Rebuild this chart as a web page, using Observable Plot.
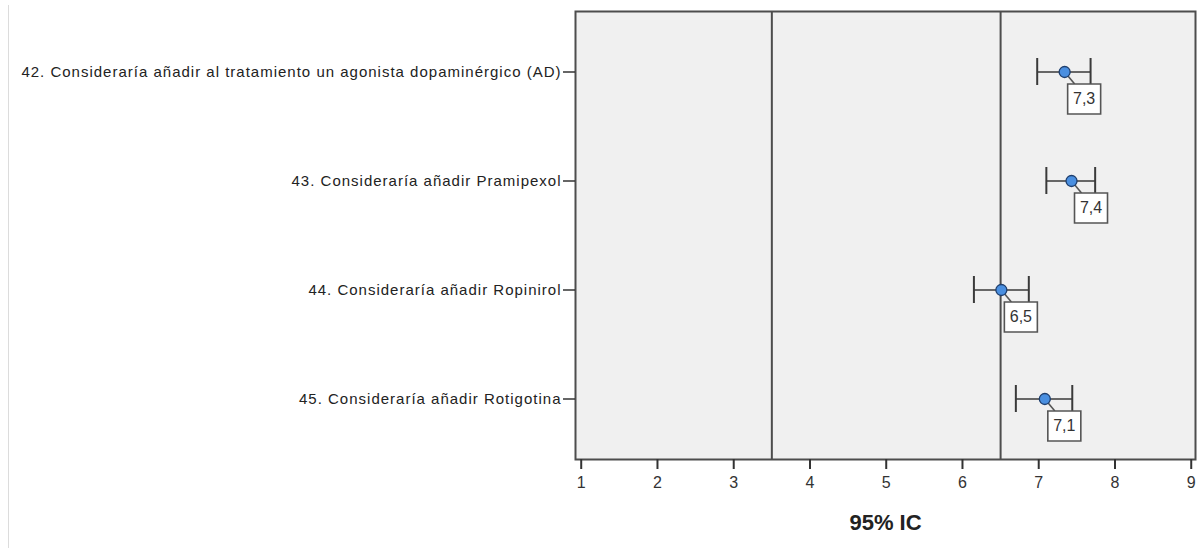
<!DOCTYPE html>
<html>
<head>
<meta charset="utf-8">
<script src="https://cdn.jsdelivr.net/npm/d3@7"></script>
<script src="https://cdn.jsdelivr.net/npm/@observablehq/plot@0.6"></script>
<style>
  body { margin: 0; background: #fff; font-family: "Liberation Sans", Arial, sans-serif; }
  #wrap { position: relative; width: 1200px; height: 548px; }
  #edge { position: absolute; left: 8px; top: 5px; bottom: 0; width: 1px; background: #dcdcdc; }
  #wrap svg { position: absolute; left: 0; top: 0; }
  /* wider tracking for the item labels */
  #wrap g[aria-label="y-axis tick label"] text { letter-spacing: 1px; }
</style>
</head>
<body>
<div id="wrap"><div id="edge"></div></div>
<script>
// Survey items (questions 42–45)
const items = [
  "42. Consideraría añadir al tratamiento un agonista dopaminérgico (AD)",
  "43. Consideraría añadir Pramipexol",
  "44. Consideraría añadir Ropinirol",
  "45. Consideraría añadir Rotigotina"
];
// Mean score and 95% confidence interval bounds per item
const means = [7.34, 7.43, 6.51, 7.08];
const lower = [6.98, 7.10, 6.15, 6.70];
const upper = [7.68, 7.74, 6.87, 7.44];
// Axis ticks and vertical reference lines
const xTicks = [1, 2, 3, 4, 5, 6, 7, 8, 9];
const refLines = [3.5, 6.5];

const rows = items.map((item, i) => ({
  item,
  mean: means[i],
  lo: lower[i],
  hi: upper[i],
  label: means[i].toFixed(1).replace(".", ",")
}));

// Leader line from the mean marker to its value box, and the box itself
const leader = { draw(ctx) { ctx.moveTo(0, 0); ctx.lineTo(10, 12); } };
const box = { draw(ctx) { ctx.rect(3, 12, 33, 30); } };

const chart = Plot.plot({
  width: 1200,
  height: 548,
  marginLeft: 575,
  marginRight: 5,
  marginTop: 11,
  marginBottom: 89,
  style: { fontFamily: "'Liberation Sans', Arial, sans-serif", color: "#222", background: "transparent" },
  x: { domain: [0.925, 9.056] },
  y: { type: "band", domain: items, paddingInner: 0, paddingOuter: 0.0364 },
  marks: [
    Plot.frame({ fill: "#f0f0f0", stroke: null }),
    Plot.ruleX(refLines, { stroke: "#4d4d4d", strokeWidth: 2 }),
    Plot.link(rows, { x1: "lo", x2: "hi", y1: "item", y2: "item", stroke: "#3a3a3a", strokeWidth: 1.6 }),
    Plot.tickX(rows, { x: "lo", y: "item", insetTop: 41, insetBottom: 41, stroke: "#3a3a3a", strokeWidth: 2 }),
    Plot.tickX(rows, { x: "hi", y: "item", insetTop: 41, insetBottom: 41, stroke: "#3a3a3a", strokeWidth: 2 }),
    Plot.dot(rows, { x: "mean", y: "item", symbol: leader, r: 5, fill: "none", stroke: "#555", strokeWidth: 1.6 }),
    Plot.dot(rows, { x: "mean", y: "item", symbol: box, r: 5, fill: "white", stroke: "#555", strokeWidth: 1.6 }),
    Plot.text(rows, { x: "mean", y: "item", text: "label", dx: 19.5, dy: 27, fontSize: 16, fill: "#333" }),
    Plot.dot(rows, { x: "mean", y: "item", r: 5.5, fill: "#4a8fe0", stroke: "#1f3f6e", strokeWidth: 1.3 }),
    Plot.frame({ stroke: "#4d4d4d", strokeWidth: 2 }),
    Plot.axisX({ ticks: xTicks, tickSize: 10, tickPadding: 7, fontSize: 16, label: null, stroke: "#333", strokeWidth: 2, fill: "#333" }),
    Plot.axisY({ tickSize: 12, tickPadding: 2, fontSize: 15, label: null, stroke: "#333", strokeWidth: 1.5, fill: "#222" }),
    Plot.text(["95% IC"], { frameAnchor: "bottom", dy: 70, fontSize: 22, fontWeight: "bold", fill: "#222" })
  ]
});

document.getElementById("wrap").appendChild(chart);
</script>
</body>
</html>
